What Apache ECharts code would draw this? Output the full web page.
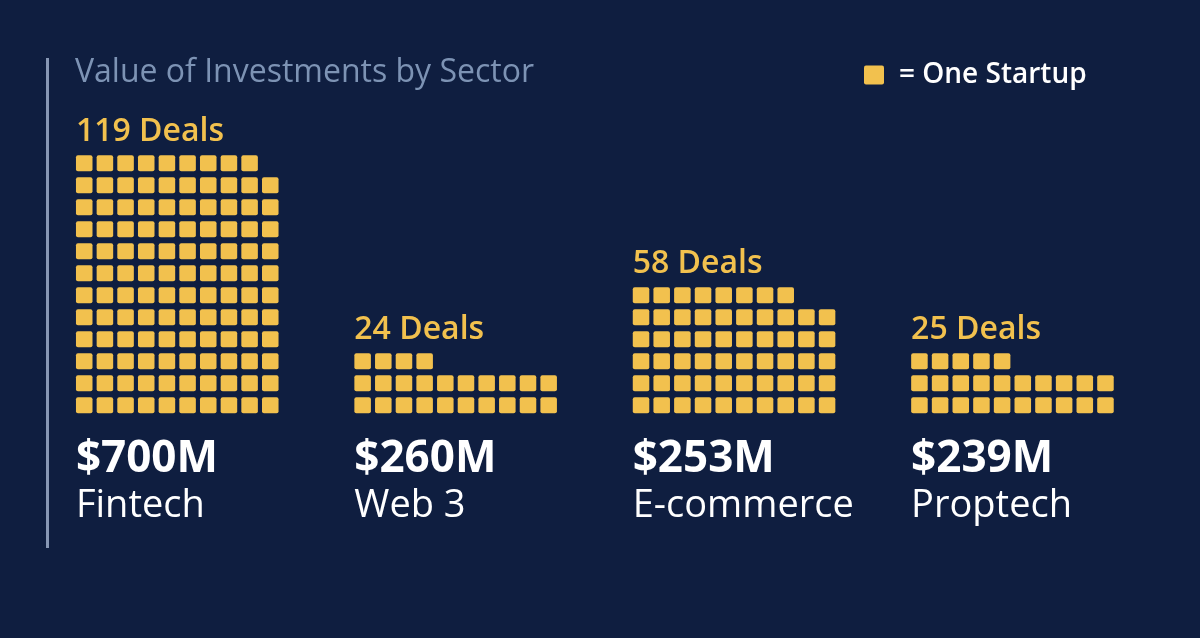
<!DOCTYPE html>
<html>
<head>
<meta charset="utf-8">
<script src="https://cdn.jsdelivr.net/npm/echarts@6/dist/echarts.min.js"></script>
<style>
  html, body { margin: 0; padding: 0; background: #0f1e40; }
  #chart { width: 1200px; height: 638px; }
</style>
</head>
<body>
<div id="chart"></div>
<script>
// ---- data ----
const sectors = ['Fintech', 'Web 3', 'E-commerce', 'Proptech'];
const deals = [119, 24, 58, 25];
const amounts = ['$700M', '$260M', '$253M', '$239M'];
const perRow = 10;      // squares per row
const maxRows = 12;     // rows available in each block

// ---- style ----
const BG = '#0f1e40';
const YELLOW = '#f2c14e';
const TITLE_C = '#7d93b4';
const FONT = 'Open Sans';
const LEGEND_NAME = '= One Startup';

const chart = echarts.init(document.getElementById('chart'), null, { renderer: 'canvas' });

const grids = [], xAxes = [], yAxes = [], series = [];
const gridLeft0 = 73.9, gridPitch = 278.4, gridTop = 152.3, gridW = 206.7, gridH = 264;

sectors.forEach((name, i) => {
  grids.push({ left: gridLeft0 + i * gridPitch, top: gridTop, width: gridW, height: gridH, containLabel: false });
  xAxes.push({ type: 'value', gridIndex: i, min: -0.5, max: perRow - 0.5, show: false });
  yAxes.push({ type: 'value', gridIndex: i, min: -0.5, max: maxRows - 0.5, show: false });

  const cells = [];
  for (let k = 0; k < deals[i]; k++) cells.push([k % perRow, Math.floor(k / perRow)]);
  const topRow = Math.floor((deals[i] - 1) / perRow);

  series.push({
    type: 'custom',
    name: LEGEND_NAME,
    xAxisIndex: i, yAxisIndex: i,
    data: cells,
    itemStyle: { color: YELLOW },
    renderItem: (params, api) => {
      const c = api.coord([api.value(0), api.value(1)]);
      const s = api.size([1, 1]);
      const w = s[0] * 0.8, h = s[1] * 0.727;
      return {
        type: 'rect',
        shape: { x: c[0] - w / 2, y: c[1] - h / 2, width: w, height: h, r: 2 },
        style: { fill: YELLOW }
      };
    }
  });

  series.push({
    type: 'custom',
    name: 'labels' + i,
    xAxisIndex: i, yAxisIndex: i,
    data: [[0, topRow]],
    silent: true,
    renderItem: (params, api) => {
      const tl = api.coord([-0.5, api.value(1) + 0.5]);
      const bl = api.coord([-0.5, -0.5]);
      const sq = api.size([1, 1]);
      const topEdge = tl[1] + sq[1] * 0.136;
      const x = tl[0] + 2;
      return {
        type: 'group',
        children: [
          { type: 'text', x: x, y: topEdge - 7,
            style: { text: deals[i] + ' Deals', fill: YELLOW, font: '600 32px "Open Sans"', align: 'left', verticalAlign: 'bottom' } },
          { type: 'text', x: x, y: bl[1] + 21,
            style: { text: amounts[i], fill: '#ffffff', font: 'bold 44px "Open Sans"', align: 'left', verticalAlign: 'top' } },
          { type: 'text', x: x, y: bl[1] + 71,
            style: { text: sectors[i], fill: '#ffffff', font: '38px "Open Sans"', align: 'left', verticalAlign: 'top' } }
        ]
      };
    }
  });
});

chart.setOption({
  backgroundColor: BG,
  animation: false,
  title: {
    text: 'Value of Investments by Sector',
    left: 75, top: 57, padding: 0,
    textStyle: { color: TITLE_C, fontSize: 32, fontWeight: 'normal', fontFamily: FONT }
  },
  legend: {
    data: [{ name: LEGEND_NAME, icon: 'path://M2,0H18Q20,0 20,2V17Q20,19 18,19H2Q0,19 0,17V2Q0,0 2,0Z', itemStyle: { color: YELLOW } }],
    left: 864, top: 61, padding: 0,
    itemWidth: 20, itemHeight: 19,
    selectedMode: false,
    textStyle: { color: '#ffffff', fontSize: 28, fontWeight: 600, fontFamily: FONT, padding: [0, 0, 0, 10] }
  },
  graphic: [{
    type: 'line',
    shape: { x1: 47.5, y1: 58, x2: 47.5, y2: 548 },
    style: { stroke: '#8797b4', lineWidth: 3 }
  }],
  grid: grids,
  xAxis: xAxes,
  yAxis: yAxes,
  series: series
});
</script>
</body>
</html>
